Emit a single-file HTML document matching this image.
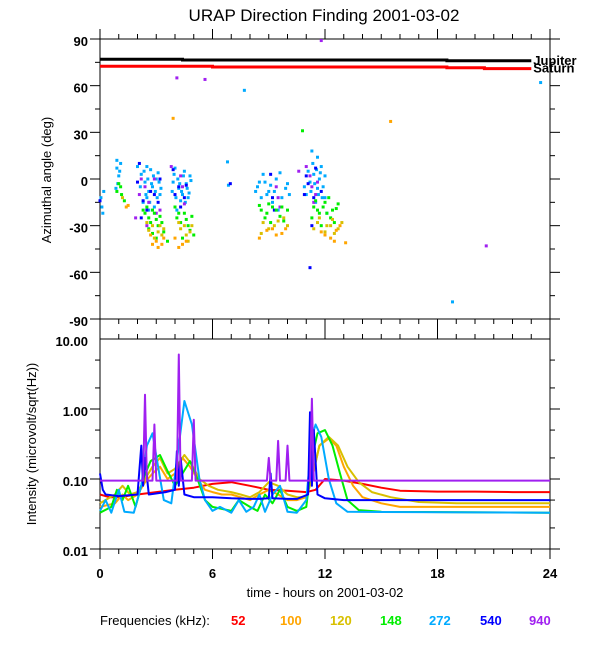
<!DOCTYPE html>
<html><head><meta charset="utf-8">
<style>
html,body{margin:0;padding:0;background:#fff;}
svg{display:block;font-family:"Liberation Sans",Arial,sans-serif;}
text{font-size:13px;fill:#000;font-weight:bold;}
</style></head>
<body>
<svg id="chart" width="600" height="650" viewBox="0 0 600 650" xmlns="http://www.w3.org/2000/svg">
<text x="324" y="21" text-anchor="middle" style="font-size:17px;font-weight:normal">URAP Direction Finding  2001-03-02</text>
<g id="gtop"></g>
<g id="gbot"></g>
<text transform="translate(51,180) rotate(-90)" text-anchor="middle" style="font-weight:normal">Azimuthal angle (deg)</text>
<text transform="translate(36,444) rotate(-90)" text-anchor="middle" style="font-weight:normal">Intensity (microvolt/sqrt(Hz))</text>
<text x="325" y="597" text-anchor="middle" style="font-weight:normal">time - hours on 2001-03-02</text>
<g>
<text x="100" y="625" style="font-weight:normal">Frequencies (kHz):</text>
<text x="231" y="625" style="fill:#ff0000">52</text>
<text x="280" y="625" style="fill:#ffa500">100</text>
<text x="330" y="625" style="fill:#d8c000">120</text>
<text x="380" y="625" style="fill:#00ee00">148</text>
<text x="429" y="625" style="fill:#00aaff">272</text>
<text x="480" y="625" style="fill:#0000ff">540</text>
<text x="529" y="625" style="fill:#a020f0">940</text>
</g>
</svg>
<script>
// ---- data ----
const xTicks = [0, 6, 12, 18, 24];
const angleTicks = [90, 60, 30, 0, -30, -60, -90];
const intensityTicks = [10, 1, 0.1, 0.01];
const intensityTickLabels = ["10.00", "1.00", "0.10", "0.01"];
const jupiterT = [0, 4.4, 4.4, 18.5, 18.5, 23];
const jupiterA = [77, 77, 76.5, 76.5, 76, 76];
const saturnT = [0, 6, 6, 18.5, 18.5, 20.5, 20.5, 23];
const saturnA = [72.5, 72.5, 72, 72, 71.5, 71.5, 71, 71];
const dfCyan = [[0.05,-12],[0.1,-18],[0.2,-8],[0.15,-22],[0.9,7],[1.0,2],[1.1,10],[0.95,-3],[2.2,3],[2.4,-2],[2.6,-8],[2.8,-5],[3.0,0],[2.5,-12],[2.3,-15],[3.2,-10],[2.7,6],[2.9,-18],[3.1,4],[3.9,-2],[4.2,-6],[4.4,-10],[4.6,-3],[4.8,2],[4.3,-14],[4.1,-20],[4.7,-12],[4.5,5],[6.8,11],[6.85,-4],[7.7,57],[8.4,-5],[8.6,-12],[8.8,-2],[9.0,-8],[9.4,0],[9.2,-15],[9.5,-20],[10.0,-3],[8.7,3],[11.0,-10],[11.2,-2],[11.4,3],[11.6,-6],[11.8,8],[11.5,-15],[12.0,-12],[11.3,18],[12.1,-22],[11.7,0],[18.8,-79],[23.5,62],
[2.0,8],[2.15,-5],[2.35,5],[2.45,-10],[2.55,0],[2.65,-15],[2.75,-3],[2.85,2],[2.95,-8],[3.05,-12],[3.15,-2],[3.25,-6],[2.5,8],[2.6,-20],[3.85,-8],[3.95,3],[4.05,-12],[4.15,0],[4.25,-3],[4.35,-8],[4.45,2],[4.55,-15],[4.65,-6],[4.75,-9],[4.85,-1],[4.0,7],[8.3,-8],[8.5,-2],[8.9,-10],[9.1,-4],[9.3,-8],[9.7,-12],[9.9,-6],[10.1,-10],[9.6,4],[10.9,-5],[11.1,5],[11.25,-8],[11.45,-3],[11.55,6],[11.65,-10],[11.75,4],[11.9,-5],[12.0,2],[11.85,-12],[11.35,10],[11.6,14],[0.85,-6],[1.05,5],[0.9,12]];
const dfBlue = [[2.1,10],[2.3,-14],[2.7,-8],[3.1,-15],[2.2,-25],[4.2,-5],[4.5,-12],[3.9,6],[9.2,-12],[9.1,3],[11.1,-3],[11.5,7],[11.3,-30],[11.2,-57],[10.9,-10],[6.95,-3],
[2.0,-2],[2.5,-20],[2.9,-10],[3.2,0],[4.0,-10],[4.3,-18],[4.6,-4],[9.3,-20],[11.4,-12],[11.8,-8],[11.0,2],[0.0,-14]];
const dfPurple = [[2.1,-10],[2.4,-5],[2.9,0],[3.2,-20],[1.9,-25],[3.8,8],[4.4,-5],[4.1,65],[5.6,64],[9.4,-5],[9.6,-18],[10.6,5],[11.0,8],[11.3,-5],[11.8,89],[20.6,-43],[11.5,-10],
[2.2,0],[2.6,-15],[3.0,-22],[4.3,2],[4.5,-16],[9.5,-12],[11.2,2],[11.4,-15],[11.6,-2],[2.5,-30]];
const dfGreen = [[0.9,-8],[1.1,-5],[1.3,-14],[2.3,-20],[2.6,-25],[2.9,-22],[3.1,-30],[2.8,-35],[3.3,-28],[3.6,-40],[4.2,-22],[4.6,-26],[4.8,-33],[4.4,-38],[5.0,-36],[8.6,-20],[8.9,-22],[9.2,-18],[9.6,-24],[10.0,-20],[9.8,-27],[10.8,31],[11.4,-18],[11.7,-22],[12.0,-15],[12.3,-25],[12.6,-19],[11.8,-30],
[2.4,-22],[2.5,-18],[2.7,-28],[2.8,-20],[3.0,-26],[3.2,-24],[3.4,-34],[2.6,-32],[3.0,-38],[4.1,-25],[4.3,-28],[4.5,-22],[4.7,-30],[4.9,-24],[4.0,-18],[8.5,-17],[8.8,-25],[9.0,-16],[9.4,-20],[9.7,-18],[9.1,-28],[11.5,-14],[11.6,-20],[11.9,-18],[12.1,-22],[12.2,-12],[12.4,-20],[12.5,-28],[11.3,-25],[12.7,-16],[1.0,-3],[1.15,-10]];
const dfYellow = [[1.2,-12],[2.5,-28],[2.8,-30],[3.1,-34],[3.4,-32],[4.3,-32],[4.6,-36],[4.9,-30],[8.7,-28],[9.3,-30],[9.8,-25],[11.6,-28],[12.1,-30],[12.4,-26],[12.7,-32],
[2.6,-33],[2.9,-38],[3.2,-30],[3.3,-36],[4.2,-28],[4.5,-30],[4.7,-40],[4.8,-34],[8.6,-35],[9.0,-32],[9.5,-27],[10.0,-30],[11.7,-25],[12.0,-34],[12.3,-30],[12.5,-35],[12.9,-28],[11.4,-32]];
const dfOrange = [[1.5,-17],[2.7,-36],[3.0,-40],[3.3,-42],[4.0,-38],[4.4,-42],[3.9,39],[8.9,-33],[9.4,-36],[9.9,-32],[11.8,-34],[12.3,-38],[12.8,-30],[13.1,-41],[15.5,37],
[2.8,-42],[3.1,-44],[3.4,-38],[4.2,-44],[4.6,-40],[8.5,-38],[9.2,-32],[9.7,-35],[12.0,-36],[12.5,-40],[12.6,-33],[1.4,-18]];
const t52 = [0,0.5,1,2,3,4,5,6,7,8,9,10,11,11.5,12,13,14,15,16,18,20,22,24];
const v52 = [0.06,0.055,0.055,0.06,0.065,0.07,0.075,0.085,0.09,0.08,0.07,0.068,0.065,0.07,0.1,0.095,0.085,0.075,0.068,0.066,0.066,0.065,0.065];
const t100 = [0,0.8,1.2,1.5,2,2.4,2.8,3.2,3.6,4,4.4,4.8,5.2,5.6,6,6.5,7,7.5,8,8.5,9,9.5,10,10.5,11,11.3,11.7,12.2,12.6,13,13.5,14,15,16,18,20,24];
const v100 = [0.04,0.045,0.06,0.05,0.06,0.09,0.12,0.15,0.1,0.12,0.2,0.15,0.1,0.07,0.065,0.06,0.06,0.055,0.05,0.06,0.07,0.06,0.05,0.05,0.055,0.1,0.3,0.38,0.3,0.15,0.08,0.055,0.045,0.04,0.04,0.04,0.04];
const t120 = [0,0.8,1.2,1.6,2,2.4,2.8,3.2,3.6,4,4.5,4.9,5.3,5.8,6.3,7,7.5,8,8.5,9,9.5,10,10.5,11,11.3,11.7,12.2,12.7,13.2,13.8,14.5,15.5,17,19,24];
const v120 = [0.045,0.06,0.08,0.06,0.065,0.1,0.15,0.2,0.12,0.14,0.22,0.16,0.1,0.08,0.07,0.065,0.06,0.055,0.065,0.09,0.08,0.06,0.055,0.055,0.1,0.3,0.4,0.3,0.15,0.09,0.065,0.055,0.047,0.045,0.045];
const t148 = [0,0.6,0.9,1.2,1.5,1.9,2.3,2.7,3.2,3.6,4.0,4.4,4.8,5.2,5.6,6.0,7,7.4,8,8.4,8.8,9.2,9.6,10,10.5,11,11.3,11.6,12.0,12.4,12.8,13.2,13.8,15,24];
const v148 = [0.033,0.04,0.07,0.05,0.08,0.04,0.1,0.18,0.22,0.13,0.08,0.12,0.18,0.1,0.05,0.04,0.035,0.05,0.04,0.035,0.06,0.045,0.07,0.04,0.035,0.04,0.2,0.45,0.5,0.3,0.12,0.05,0.036,0.034,0.033];
const t272 = [0,0.3,0.6,1.0,1.3,1.8,2.2,2.5,2.8,3.1,3.4,3.8,4.2,4.5,4.9,5.3,5.6,6.0,6.4,7,7.4,7.8,8.2,8.5,8.8,9.2,9.6,10.0,10.5,11.0,11.3,11.5,11.8,12.2,12.6,13.2,24];
const v272 = [0.035,0.05,0.033,0.07,0.034,0.033,0.08,0.3,0.45,0.15,0.05,0.045,0.3,1.3,0.6,0.1,0.05,0.035,0.04,0.033,0.05,0.034,0.04,0.06,0.034,0.06,0.08,0.034,0.033,0.05,0.4,0.6,0.4,0.1,0.045,0.034,0.033];
const t540 = [0,0.15,0.3,1,2.0,2.2,2.3,2.4,2.6,3.5,4.0,4.1,4.2,4.3,4.5,5,6,7,8,8.5,9.0,9.1,9.2,10,10.5,11.1,11.2,11.3,11.4,11.6,12,13,18,18.5,24];
const v540 = [0.12,0.07,0.06,0.057,0.06,0.3,0.08,0.2,0.06,0.065,0.07,0.25,0.08,0.2,0.06,0.055,0.055,0.053,0.052,0.052,0.053,0.12,0.053,0.052,0.052,0.06,0.9,0.08,0.5,0.06,0.053,0.05,0.05,0.05,0.05];
const t940 = [0,2.3,2.4,2.5,2.8,2.9,3.0,4.1,4.2,4.3,4.9,5.0,5.1,8.9,9.0,9.1,9.4,9.5,9.6,9.9,10.0,10.1,11.2,11.3,11.4,13,24];
const v940 = [0.095,0.095,1.6,0.095,0.095,0.6,0.095,0.095,6.0,0.095,0.095,0.7,0.095,0.095,0.2,0.095,0.095,0.35,0.095,0.095,0.3,0.095,0.095,1.4,0.095,0.095,0.095];

// ---- axes ----
const X0 = 100, X1 = 550;
const TOP0 = 39, TOP1 = 319, BOT0 = 339, BOT1 = 549;
const xs = t => X0 + t * (X1 - X0) / 24;
const ya = a => TOP0 + (90 - a) * (TOP1 - TOP0) / 180;
const yi = v => BOT1 - (Math.log10(v) + 2) * (BOT1 - BOT0) / 3;
const NS = "http://www.w3.org/2000/svg";
function mk(tag, attrs, parent) {
  const e = document.createElementNS(NS, tag);
  for (const k in attrs) e.setAttribute(k, attrs[k]);
  parent.appendChild(e);
  return e;
}
const gTop = document.getElementById('gtop'), gBot = document.getElementById('gbot');

function frame(g, y0, y1, name) {
  const r = mk('rect', {x: X0, y: y0, width: X1 - X0, height: y1 - y0, fill: 'none', stroke: '#000', 'stroke-width': 1}, g);
  
  
  for (let h = 0; h <= 24; h++) {
    const len = h % 6 === 0 ? 10 : 5;
    const x = xs(h);
    mk('line', {x1: x, x2: x, y1: y0, y2: y0 - len, stroke: '#000'}, g);
    mk('line', {x1: x, x2: x, y1: y1, y2: y1 + len, stroke: '#000'}, g);
  }
}
frame(gTop, TOP0, TOP1, 'azimuth');
frame(gBot, BOT0, BOT1, 'intensity');

for (let a = -90; a <= 90; a += 15) {
  const len = a % 30 === 0 ? 10 : 5, y = ya(a);
  mk('line', {x1: X0, x2: X0 - len, y1: y, y2: y, stroke: '#000'}, gTop);
  mk('line', {x1: X1, x2: X1 + len, y1: y, y2: y, stroke: '#000'}, gTop);
}
angleTicks.forEach(a => {
  const t = mk('text', {x: 88, y: ya(a) + 7, 'text-anchor': 'end'}, gTop);
  t.textContent = String(a);
  
  
});
for (let d = -2; d < 1; d++) {
  [1, 2, 5].forEach(m => {
    const v = m * Math.pow(10, d), y = yi(v), len = m === 1 ? 10 : 5;
    mk('line', {x1: X0, x2: X0 - len, y1: y, y2: y, stroke: '#000'}, gBot);
    mk('line', {x1: X1, x2: X1 + len, y1: y, y2: y, stroke: '#000'}, gBot);
  });
}
intensityTicks.forEach((v, i) => {
  const t = mk('text', {x: 88, y: yi(v) + 7, 'text-anchor': 'end'}, gBot);
  t.textContent = intensityTickLabels[i];
  
  
});
xTicks.forEach(h => {
  const t = mk('text', {x: xs(h), y: 578, 'text-anchor': 'middle'}, gBot);
  t.textContent = String(h);
  
  
});

function path(ts, vs, f) { return ts.map((t, i) => (i ? 'L' : 'M') + xs(t).toFixed(1) + ' ' + f(vs[i]).toFixed(1)).join(' '); }
const jl = mk('path', {d: path(jupiterT, jupiterA, ya), stroke: '#000', 'stroke-width': 3, fill: 'none'}, gTop);


const sl = mk('path', {d: path(saturnT, saturnA, ya), stroke: '#ff0000', 'stroke-width': 3, fill: 'none'}, gTop);


const jt = mk('text', {x: xs(23) + 2, y: ya(jupiterA[jupiterA.length - 1]) + 4}, gTop);
jt.textContent = 'Jupiter';


const st = mk('text', {x: xs(23) + 2, y: ya(saturnA[saturnA.length - 1]) + 4}, gTop);
st.textContent = 'Saturn';



[[dfCyan, '#00aaff', 'cyan'], [dfBlue, '#0000ff', 'blue'], [dfPurple, '#a020f0', 'purple'], [dfGreen, '#00ee00', 'green'], [dfYellow, '#d8c000', 'yellow'], [dfOrange, '#ffa500', 'orange']].forEach(([pts, col, nm]) => {
  pts.forEach(p => {
    const r = mk('rect', {x: xs(p[0]) - 1.5, y: ya(p[1]) - 1.5, width: 3, height: 3, fill: col}, gTop);
    
    
  });
});

[[t52, v52, '#ff0000', '52'], [t100, v100, '#ffa500', '100'], [t120, v120, '#d8c000', '120'], [t148, v148, '#00ee00', '148'], [t272, v272, '#00aaff', '272'], [t540, v540, '#0000ff', '540'], [t940, v940, '#a020f0', '940']].forEach(([ts, vs, col, nm]) => {
  const p = mk('path', {d: path(ts, vs, yi), stroke: col, 'stroke-width': 2, fill: 'none', 'stroke-linejoin': 'round'}, gBot);
  
  
});
</script>
</body></html>
